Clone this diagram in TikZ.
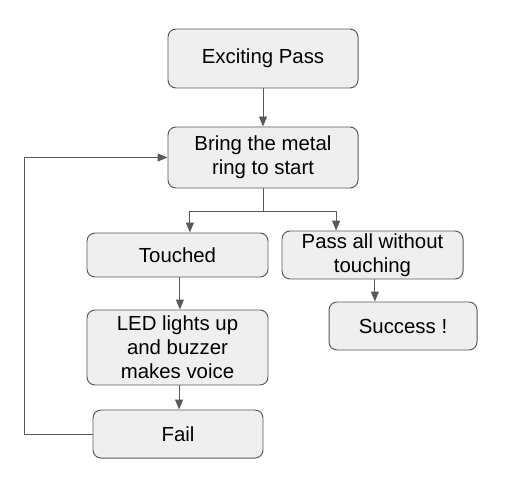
\documentclass[tikz,border=0pt]{standalone}
\usepackage{fontspec}
\setmainfont{Liberation Sans}
\usetikzlibrary{arrows.meta}
\definecolor{boxfill}{HTML}{EFEFEF}
\definecolor{linegray}{HTML}{595959}
\tikzset{
    stepbox/.style={draw=linegray, fill=boxfill, rounded corners=0.2cm, line width=0.7pt,
        align=center, inner sep=0pt, font=\fontsize{14.5}{17}\selectfont},
    flow/.style={draw=linegray, line width=0.7pt, -{Triangle[length=0.25cm,width=0.2cm]}}
}
\begin{document}
\begin{tikzpicture}
        \useasboundingbox (0,0) rectangle (12.8,12.175);
        \node [stepbox, minimum width=4.75cm, minimum height=1.475cm] (pass) at (6.575,10.7125) {Exciting Pass};
        \node [stepbox, minimum width=4.75cm, minimum height=1.525cm] (bring) at (6.575,8.2375) {Bring the metal\\ring to start};
        \node [stepbox, minimum width=4.525cm, minimum height=1.1cm] (touched) at (4.4375,5.8) {Touched};
        \node [stepbox, minimum width=4.525cm, minimum height=1.2cm] (passall) at (9.3125,5.8) {Pass all without\\touching};
        \node [stepbox, minimum width=4.525cm, minimum height=1.875cm] (led) at (4.4375,3.4875) {LED lights up\\and buzzer\\makes voice};
        \node [stepbox, minimum width=4.25cm, minimum height=1.2cm] (fail) at (4.45,1.325) {Fail};
        \node [stepbox, minimum width=3.7cm, minimum height=1.2cm] (success) at (10.075,4.025) {Success !};
        \coordinate (split) at (6.575,6.9);
        \coordinate (corner) at (0.6,1.325);
        \draw [flow] (pass) -- (bring);
        \draw [draw=linegray, line width=0.7pt] (bring.south) -- (split);
        \draw [flow] (split) -| ([xshift=0.31cm]touched.north);
        \draw [flow] (split) -| ([xshift=-0.91cm]passall.north);
        \draw [flow] ([xshift=0.06cm]touched.south) -- ([xshift=0.06cm]led.north);
        \draw [flow] ([xshift=0.04cm]led.south) -- ([xshift=0.04cm]led.south |- fail.north);
        \draw [flow] ([xshift=0.06cm]passall.south) -- ([xshift=0.06cm]passall.south |- success.north);
        \draw [flow] (fail.west) -- (corner) |- (bring.west);
    \end{tikzpicture}
\end{document}
